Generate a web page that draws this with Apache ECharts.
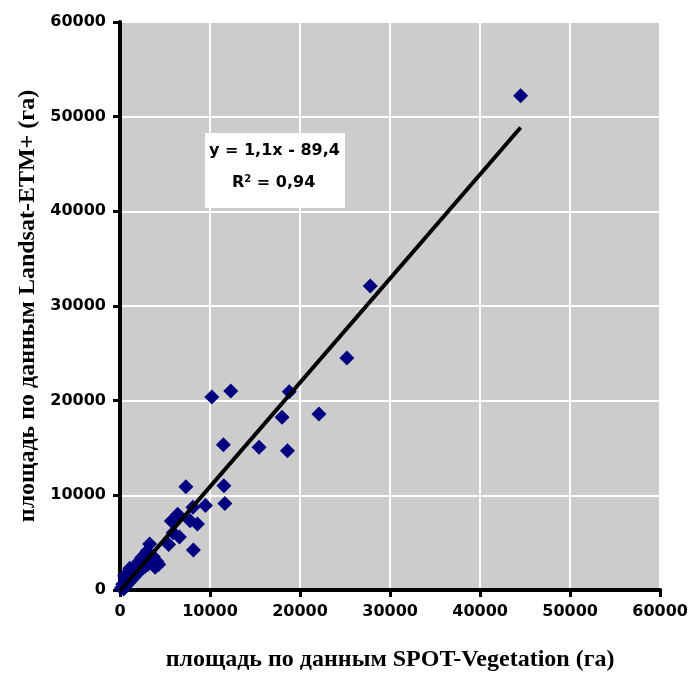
<!DOCTYPE html>
<html>
<head>
<meta charset="utf-8">
<script src="https://cdn.jsdelivr.net/npm/echarts@6/dist/echarts.min.js"></script>
<style>html,body{margin:0;padding:0;background:#fff}#c{width:691px;height:677px}</style>
</head>
<body>
<div id="c"></div>
<script>
// SPOT-Vegetation area (x) and Landsat-ETM+ area (y), ha
const spotX = [44500, 27800, 25200, 22100, 18800, 18000, 18600, 15450, 12300, 10200,
  11480, 11540, 11650, 7320, 9500, 8100, 8600, 7780, 6410, 5700,
  5900, 6600, 5400, 8150, 3300,
  150, 300, 400, 600, 700, 900, 1000, 1200, 1300, 1500,
  1600, 1800, 1900, 2100, 2200, 2400, 2500, 2700, 2800, 3000,
  3100, 3300, 3500, 3700, 3900, 4100, 4300, 500, 1100, 2000];
const landsatY = [52200, 32100, 24500, 18600, 20950, 18250, 14700, 15070, 21020, 20400,
  15350, 11000, 9150, 10900, 8930, 8750, 6970, 7320, 8000, 7300,
  6050, 5600, 4800, 4230, 4860,
  200, 600, 100, 1000, 500, 1400, 800, 1700, 1100, 2000,
  1400, 2600, 1800, 3000, 2000, 3400, 2300, 3700, 2500, 4100,
  2700, 3300, 2900, 3500, 2400, 3000, 2700, 1500, 2300, 2600];
const tickValues = [0, 10000, 20000, 30000, 40000, 50000, 60000];
const slope = 1.1, intercept = -89.4;
const trendX = [0, 44500];
const eqText = 'y = 1,1x - 89,4';
const r2Text = '0,94';

const chart = echarts.init(document.getElementById('c'), null, {renderer: 'canvas'});
const pts = spotX.map((x, i) => [x, landsatY[i]]);
const trend = trendX.map(x => [x, slope * x + intercept]);
const tickFont = {fontFamily: 'DejaVu Sans', fontWeight: 'bold', fontSize: 16, color: '#000'};
const titleFont = {fontFamily: 'Liberation Serif', fontWeight: 'bold', fontSize: 24, color: '#000'};
const axisCommon = {
  type: 'value', min: tickValues[0], max: tickValues[tickValues.length - 1], interval: 10000,
  axisLine: {show: true, onZero: false, lineStyle: {color: '#000', width: 4}},
  axisTick: {show: true, inside: false, length: 7, lineStyle: {color: '#000', width: 3}},
  splitLine: {show: true, lineStyle: {color: '#fff', width: 2}},
  axisLabel: Object.assign({margin: 14, formatter: v => String(v)}, tickFont),
  nameLocation: 'middle', nameTextStyle: titleFont
};
chart.setOption({
  animation: false,
  grid: {left: 120, right: 29, top: 22, bottom: 87, show: true, backgroundColor: '#cccccc', borderWidth: 0},
  xAxis: Object.assign({}, axisCommon, {name: 'площадь по данным SPOT-Vegetation (га)', nameGap: 58}),
  yAxis: Object.assign({}, axisCommon, {name: 'площадь по данным Landsat-ETM+ (га)', nameGap: 78, nameRotate: 90}),
  series: [
    {type: 'scatter', data: pts, symbol: 'diamond', symbolSize: 15, itemStyle: {color: '#000080', opacity: 1}, z: 2},
    {type: 'line', data: trend, symbol: 'none', lineStyle: {color: '#000', width: 4}, z: 3}
  ],
  graphic: [
    {type: 'rect', left: 205, top: 133, shape: {width: 140, height: 75}, style: {fill: '#fff'}, z: 10},
    {type: 'text', left: 209, top: 143, style: {text: eqText, font: 'bold 16px "DejaVu Sans"', fill: '#000'}, z: 11},
    {type: 'text', left: 232, top: 174, style: {
      text: 'R{sup|2} = ' + r2Text,
      font: 'bold 16px "DejaVu Sans"', fill: '#000',
      rich: {sup: {fontSize: 10, fontWeight: 'bold', fontFamily: 'DejaVu Sans', verticalAlign: 'top', padding: [0, 0, 8, 0]}}
    }, z: 11}
  ]
});
</script>
</body>
</html>
